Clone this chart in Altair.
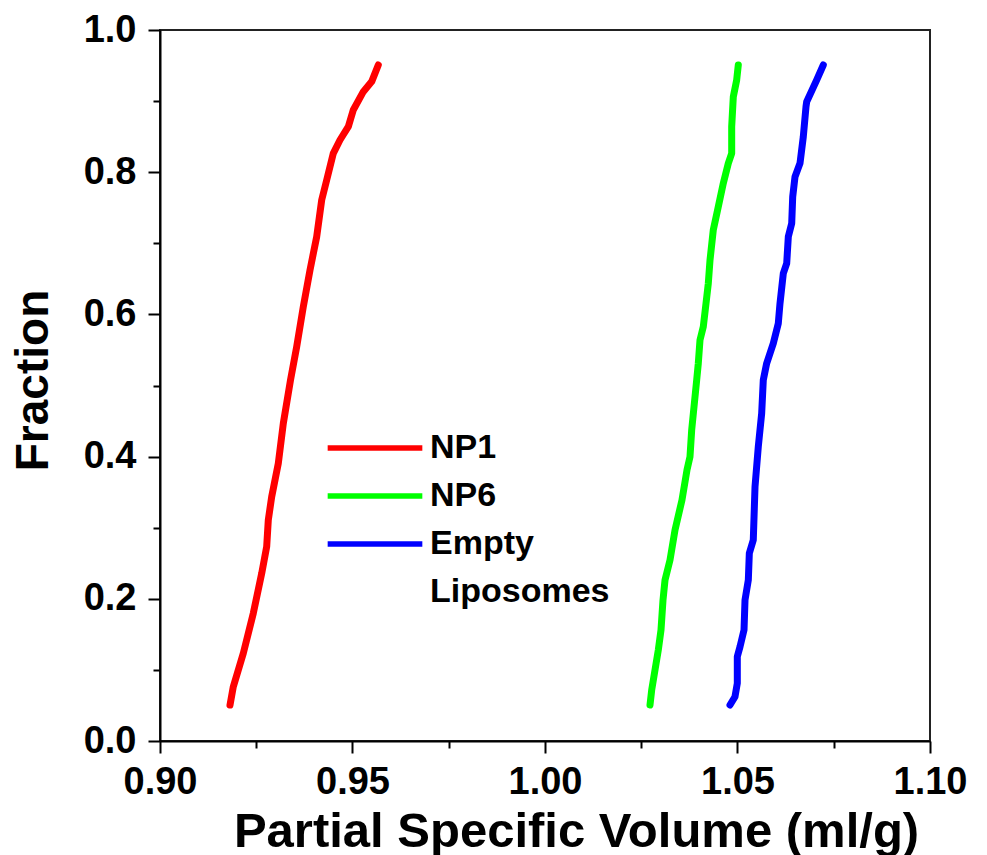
import altair as alt
import pandas as pd

# ---- data ----
np1_x = [0.91818, 0.91904, 0.92164, 0.92423, 0.92642, 0.92771, 0.92813, 0.92901,
         0.93073, 0.93203, 0.93390, 0.93551, 0.93722, 0.93896, 0.94070, 0.94200,
         0.94330, 0.94501, 0.94675, 0.94891, 0.95020, 0.95281, 0.95499, 0.95670]
np1_y = [0.0506, 0.0764, 0.1234, 0.1796, 0.2359, 0.2733, 0.3108, 0.3436,
         0.3905, 0.4467, 0.5077, 0.5547, 0.6108, 0.6624, 0.7093, 0.7609,
         0.7890, 0.8265, 0.8453, 0.8640, 0.8875, 0.9133, 0.9274, 0.9508]

np6_x = [1.02727, 1.02771, 1.02857, 1.02943, 1.03013, 1.03065, 1.03117, 1.03247,
         1.03377, 1.03558, 1.03688, 1.03766, 1.03810, 1.03940, 1.03982, 1.04026,
         1.04112, 1.04182, 1.04242, 1.04286, 1.04371, 1.04501, 1.04631, 1.04761,
         1.04849, 1.04849, 1.04891, 1.04979, 1.05021]
np6_y = [0.0506, 0.0717, 0.0999, 0.1280, 0.1561, 0.1983, 0.2264, 0.2546,
         0.2968, 0.3390, 0.3812, 0.3999, 0.4374, 0.5077, 0.5312, 0.5640,
         0.5827, 0.6156, 0.6437, 0.6765, 0.7187, 0.7515, 0.7844, 0.8125,
         0.8266, 0.8640, 0.9062, 0.9297, 0.9508]

emp_x = [1.04805, 1.04935, 1.04995, 1.04995, 1.05065, 1.05169, 1.05195, 1.05281,
         1.05307, 1.05410, 1.05455, 1.05540, 1.05628, 1.05670, 1.05758, 1.05930,
         1.06060, 1.06104, 1.06190, 1.06278, 1.06320, 1.06408, 1.06434, 1.06494,
         1.06623, 1.06709, 1.06779, 1.06797, 1.07057, 1.07229]
emp_y = [0.0506, 0.0623, 0.0812, 0.1186, 0.1326, 0.1561, 0.1983, 0.2264,
         0.2640, 0.2827, 0.3577, 0.4139, 0.4609, 0.5077, 0.5312, 0.5593,
         0.5875, 0.6156, 0.6578, 0.6718, 0.7093, 0.7281, 0.7655, 0.7937,
         0.8125, 0.8499, 0.8921, 0.8992, 0.9297, 0.9508]

series_names = ["NP1", "NP6", "Empty Liposomes"]
series_colors = ["#ff0000", "#00ff00", "#0000ff"]

x_ticks = [0.9, 0.925, 0.95, 0.975, 1.0, 1.025, 1.05, 1.075, 1.1]
y_ticks = [0.0, 0.1, 0.2, 0.3, 0.4, 0.5, 0.6, 0.7, 0.8, 0.9, 1.0]

rows = []
for name, xs, ys in zip(series_names, [np1_x, np6_x, emp_x], [np1_y, np6_y, emp_y]):
    for i, (xv, yv) in enumerate(zip(xs, ys)):
        rows.append({"series": name, "psv": xv, "fraction": yv, "idx": i})
df = pd.DataFrame(rows)

FONT = "Liberation Sans"

x_major = "abs(datum.value*20 - round(datum.value*20)) < 0.001"
y_major = "abs(datum.value*5 - round(datum.value*5)) < 0.001"

x_axis = alt.Axis(
    values=x_ticks,
    labelExpr=f"{x_major} ? format(datum.value, '.2f') : ''",
    tickSize={"condition": {"test": x_major, "value": 12}, "value": 7},
    tickWidth=2, tickColor="black", domainColor="black", domainWidth=2,
    grid=False, labelFont=FONT, labelFontSize=38, labelFontWeight="bold",
    labelColor="black", labelPadding=10, labelFlush=False, labelOverlap=False,
    title="Partial Specific Volume (ml/g)", titleFont=FONT, titleFontSize=49,
    titleFontWeight="bold", titleColor="black", titleBaseline="alphabetic",
    titleAlign="center", titleX=416, titleY=105,
)
y_axis = alt.Axis(
    values=y_ticks,
    labelExpr=f"{y_major} ? format(datum.value, '.1f') : ''",
    tickSize={"condition": {"test": y_major, "value": 12}, "value": 7},
    tickWidth=2, tickColor="black", domainColor="black", domainWidth=2,
    grid=False, labelFont=FONT, labelFontSize=38, labelFontWeight="bold",
    labelColor="black", labelPadding=12, labelFlush=False, labelOverlap=False,
    title="Fraction", titleFont=FONT, titleFontSize=46, titleFontWeight="bold",
    titleColor="black", titleBaseline="alphabetic", titleAngle=270,
    titleAlign="center", titleX=-113, titleY=350,
)

legend = alt.Legend(
    orient="none", legendX=198, legendY=401, title=None, padding=0,
    symbolType="M-4,0H4", symbolSize=560, symbolStrokeWidth=5.5,
    labelFont=FONT, labelFontSize=34, labelFontWeight="bold", labelColor="black",
    labelOffset=38, rowPadding=14, labelLimit=0,
    labelExpr="datum.label == 'Empty Liposomes' ? ['Empty', 'Liposomes'] : datum.label",
)

chart = alt.Chart(df).mark_line(strokeWidth=7, strokeCap="round", strokeJoin="round").encode(
    x=alt.X("psv:Q", scale=alt.Scale(domain=[0.9, 1.1], nice=False, zero=False), axis=x_axis),
    y=alt.Y("fraction:Q", scale=alt.Scale(domain=[0, 1], nice=False), axis=y_axis),
    color=alt.Color("series:N", scale=alt.Scale(domain=series_names, range=series_colors),
                    sort=series_names, legend=legend),
    order="idx:Q",
).properties(
    width=770, height=711,
    autosize=alt.AutoSizeParams(type="none"),
    padding={"left": 160, "top": 30, "right": 57, "bottom": 114},
).configure(
    background="white",
    style={"guide-label": {"lineHeight": 48}},
).configure_view(
    stroke="#222222", strokeWidth=2
)

chart.save("out.html", embed_options={"renderer": "svg", "actions": False})
